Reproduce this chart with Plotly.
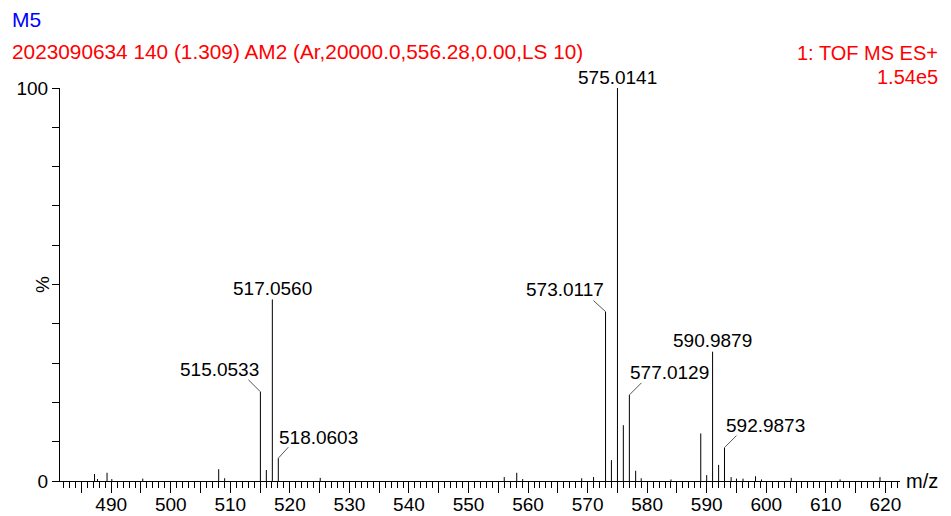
import plotly.graph_objects as go

# ---- data ----
mz = [487.2, 487.7, 489.3, 490.1, 495.3, 508.05, 509.05,
      515.0533, 516.05, 517.0560, 518.0603, 525.1,
      556.0, 558.1, 559.1, 569.0, 571.0,
      573.0117, 574.0, 575.0141, 576.0, 577.0129, 578.07, 579.0, 584.0,
      589.0, 590.0, 590.9879, 592.0, 592.9873, 594.1, 595.0, 596.1,
      598.2, 599.2, 604.2, 612.4, 619.1]
intensity = [1.8, 0.5, 2.1, 0.5, 0.6, 3.0, 0.7,
             22.7, 2.8, 46.2, 5.8, 0.8,
             1.0, 2.1, 0.5, 0.7, 1.0,
             43.1, 5.3, 100.0, 14.2, 21.9, 2.6, 0.7, 0.4,
             12.1, 1.5, 32.9, 4.1, 8.5, 1.0, 0.6, 0.6,
             1.2, 0.4, 0.8, 0.4, 1.0]

labelled_mz = [515.0533, 517.0560, 518.0603, 573.0117, 575.0141,
               577.0129, 590.9879, 592.9873]

x_major = list(range(485, 625, 5))
x_labels = [str(v) if v % 10 == 0 else "" for v in x_major]
y_ticks = list(range(0, 101, 10))
y_labels = ["0"] + [""] * 9 + ["100"]

title_line = "M5"
info_line = "2023090634 140 (1.309) AM2 (Ar,20000.0,556.28,0.00,LS 10)"
scan_line = "1: TOF MS ES+"
scale_line = "1.54e5"

# ---- label placement (pixel offsets from peak top: text centre, leader end) ----
label_style = {
    515.0533: (-41, 22, -12, 12),
    517.0560: (0, 11, None, None),
    518.0603: (40, 21, 10, 11),
    573.0117: (-41, 22, -12, 11),
    575.0141: (0, 11, None, None),
    577.0129: (40, 22, 12, 12),
    590.9879: (0, 11, None, None),
    592.9873: (41, 22, 12, 12),
}

FONT = "Liberation Sans, Arial, sans-serif"

xs, ys = [], []
for m, h in zip(mz, intensity):
    xs += [m, m, None]
    ys += [0, h, None]

fig = go.Figure()
fig.add_trace(go.Scatter(x=xs, y=ys, mode="lines",
                         line=dict(color="black", width=1),
                         cliponaxis=False, hoverinfo="skip",
                         showlegend=False))

annotations = []
shapes = []
for m in labelled_mz:
    h = intensity[mz.index(m)]
    tx, ty, lx, ly = label_style[m]
    annotations.append(dict(x=m, y=h, xref="x", yref="y", text=f"{m:.4f}",
                            showarrow=False, xanchor="center", yanchor="middle",
                            xshift=tx, yshift=ty,
                            font=dict(family=FONT, size=19, color="black")))
    if lx is not None:
        shapes.append(dict(type="line", xref="x", yref="y",
                           xsizemode="pixel", ysizemode="pixel",
                           xanchor=m, yanchor=h, x0=0, x1=lx, y0=0, y1=ly,
                           line=dict(color="#555555", width=1)))

# header texts
annotations += [
    dict(x=-0.0595, y=1.175, xref="paper", yref="paper", text=title_line,
         showarrow=False, xanchor="left", yanchor="middle",
         font=dict(family=FONT, size=21, color="#0000ff")),
    dict(x=-0.0595, y=1.092, xref="paper", yref="paper", text=info_line,
         showarrow=False, xanchor="left", yanchor="middle",
         font=dict(family=FONT, size=20.8, color="#ff0000")),
    dict(x=1.0476, y=1.090, xref="paper", yref="paper", text=scan_line,
         showarrow=False, xanchor="right", yanchor="middle",
         font=dict(family=FONT, size=20, color="#ff0000")),
    dict(x=1.0476, y=1.029, xref="paper", yref="paper", text=scale_line,
         showarrow=False, xanchor="right", yanchor="middle",
         font=dict(family=FONT, size=20, color="#ff0000")),
    dict(x=1.005, y=0, xref="paper", yref="y", text="m/z",
         showarrow=False, xanchor="left", yanchor="middle",
         font=dict(family=FONT, size=20, color="black")),
    dict(x=-0.006, y=50, xref="paper", yref="y", text="%",
         showarrow=False, xanchor="right", yanchor="middle", textangle=-90,
         font=dict(family=FONT, size=19, color="black")),
]

fig.update_layout(
    width=951, height=516,
    margin=dict(l=60, r=51, t=88, b=35, autoexpand=False),
    paper_bgcolor="white", plot_bgcolor="white",
    annotations=annotations, shapes=shapes,
    font=dict(family=FONT, size=19, color="black"),
    xaxis=dict(range=[481.4, 622.46], showgrid=False, zeroline=False,
               showline=True, linecolor="black", linewidth=1, automargin=False,
               tickmode="array", tickvals=x_major, ticktext=x_labels,
               ticks="outside", ticklen=11, tickcolor="black", tickwidth=1,
               ticklabelstandoff=-5,
               tickfont=dict(family=FONT, size=19, color="black"),
               minor=dict(tickmode="linear", tick0=0, dtick=1, ticks="outside",
                          ticklen=6, tickcolor="black", tickwidth=1, showgrid=False)),
    yaxis=dict(range=[0, 100], showgrid=False, zeroline=False,
               showline=True, linecolor="black", linewidth=1, automargin=False,
               tickmode="array", tickvals=y_ticks, ticktext=y_labels,
               ticks="outside", ticklen=7, tickcolor="black", tickwidth=1,
               tickfont=dict(family=FONT, size=19, color="black")),
)

fig.write_html("out.html",
               config={"displayModeBar": False},
               post_script="document.body.style.margin='0';"
                           "document.body.style.overflow='hidden';")
